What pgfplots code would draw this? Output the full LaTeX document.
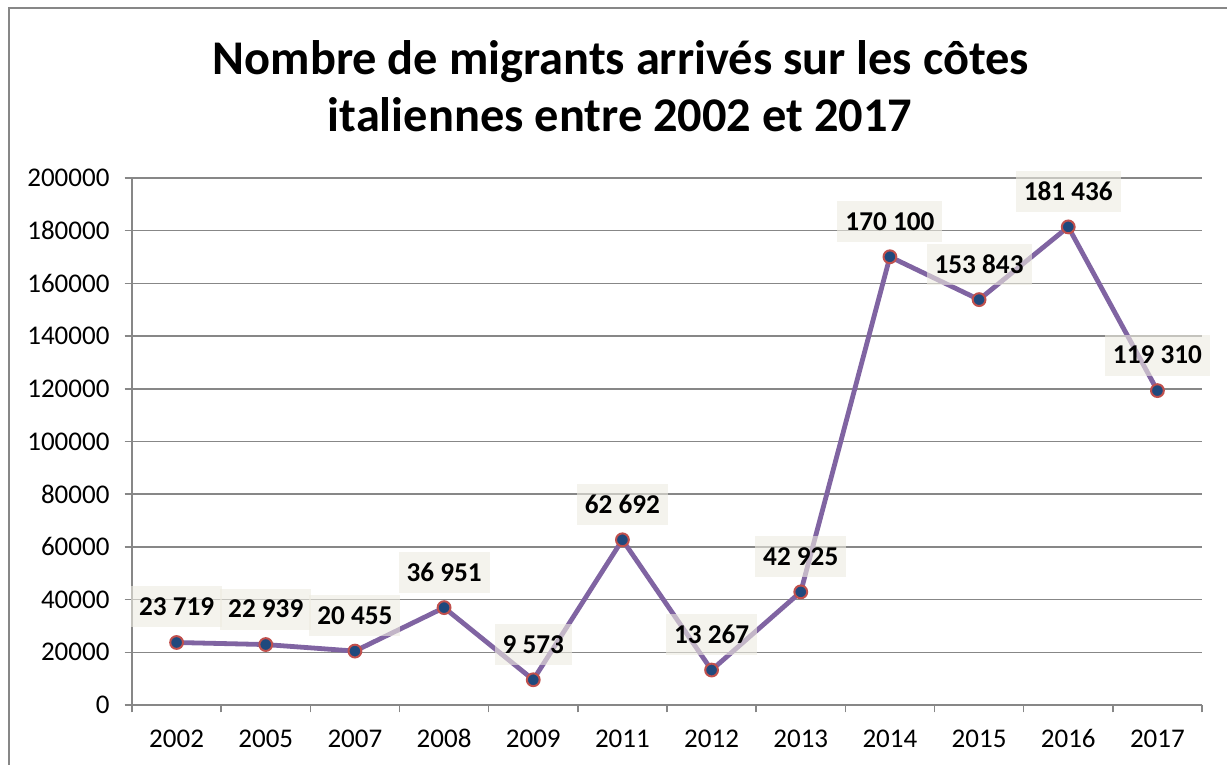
\documentclass[border=0pt]{standalone}
\usepackage{pgfplots}
\pgfplotsset{compat=1.18}
\usepackage{fontspec}
\setmainfont{Carlito}
\definecolor{lineP}{HTML}{8064A2}
\definecolor{mfill}{HTML}{1F497D}
\definecolor{medge}{HTML}{C0504D}
\definecolor{lblbg}{HTML}{EEECE1}
\definecolor{gridc}{HTML}{878787}
\begin{document}
\begin{tikzpicture}
\useasboundingbox (0,0) rectangle (613.5pt,382.5pt);
\fill[white] (0,0) rectangle (613.5pt,382.5pt);
\draw[gridc, line width=0.75pt] (4.6pt,0) -- (4.6pt,378.6pt) -- (613.5pt,378.6pt);
\node[font=\fontsize{24.2}{29}\selectfont\bfseries, anchor=base, inner sep=0pt] at (310.5pt,345pt) {Nombre de migrants arrivés sur les côtes};
\node[font=\fontsize{24.2}{29}\selectfont\bfseries, anchor=base, inner sep=0pt] at (310pt,316.5pt) {italiennes entre 2002 et 2017};
\begin{axis}[at={(66pt,30pt)}, anchor=south west, scale only axis,
  width=535pt, height=263.5pt,
  xmin=-0.5, xmax=11.5, ymin=0, ymax=200000,
  clip=false,
  axis lines*=left,
  axis line style={gridc, line width=0.75pt},
  ytick={0,20000,...,200000},
  ymajorgrids, grid style={gridc, line width=0.75pt},
  xtick={-0.5,0.5,1.5,2.5,3.5,4.5,5.5,6.5,7.5,8.5,9.5,10.5,11.5},
  x tick label as interval,
  xticklabels={2002,2005,2007,2008,2009,2011,2012,2013,2014,2015,2016,2017},
  tick align=outside, major tick length=3.75pt,
  tick style={gridc, line width=0.75pt},
  scaled y ticks=false,
  /pgf/number format/.cd, fixed, 1000 sep={}, assume math mode=true, /pgfplots/.cd,
  tick label style={font=\fontsize{13.5}{15}\selectfont, text=black},
  yticklabel style={anchor=east, xshift=-4pt},
  xticklabel style={anchor=base, yshift=-17.5pt},
  point meta=explicit symbolic,
  nodes near coords,
  every node near coord/.append style={font=\fontsize{13.6}{15}\selectfont\bfseries,
     fill=lblbg, fill opacity=0.6, text opacity=1, text=black,
     inner xsep=4pt, inner ysep=0pt, minimum height=20.5pt, anchor=south, yshift=7pt},
]
\addplot[lineP, line width=2.4pt, mark=*, mark size=3.2pt,
  mark options={fill=mfill, draw=medge, line width=1pt}]
  coordinates {
  (0,23719) [23 719]
  (1,22939) [22 939]
  (2,20455) [20 455]
  (3,36951) [36 951]
  (4,9573) [9 573]
  (5,62692) [62 692]
  (6,13267) [13 267]
  (7,42925) [42 925]
  (8,170100) [170 100]
  (9,153843) [153 843]
  (10,181436) [181 436]
  (11,119310) [119 310]
  };
\end{axis}
\end{tikzpicture}
\end{document}
